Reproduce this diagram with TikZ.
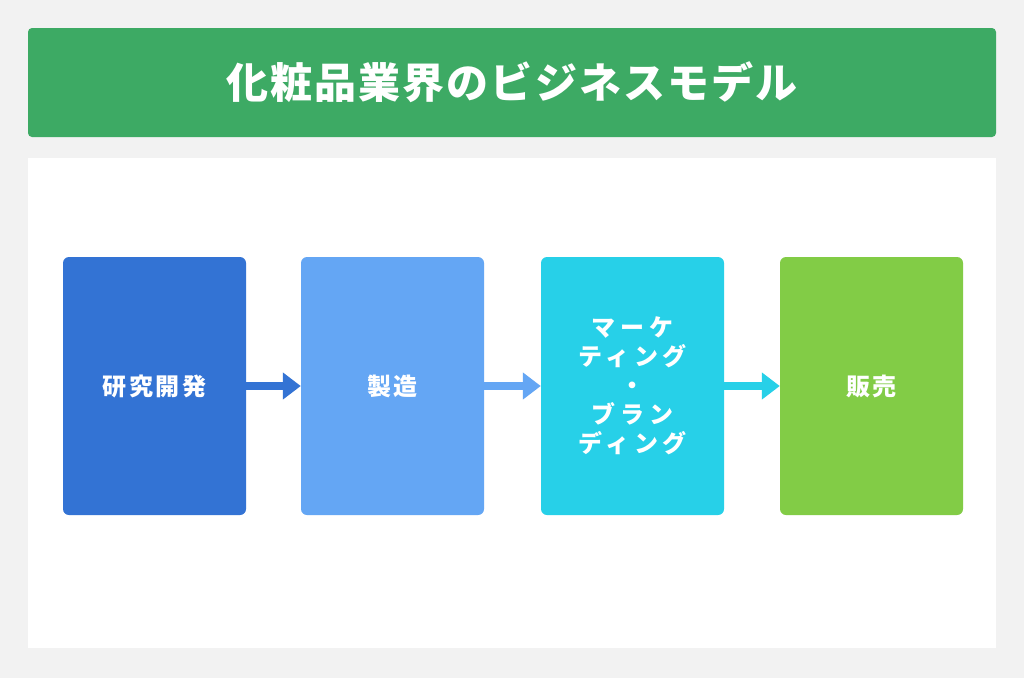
\documentclass[tikz,border=0pt]{standalone}
\usepackage{fontspec}
\usetikzlibrary{arrows.meta}
\newfontfamily\cjk{Noto Sans CJK JP}
\definecolor{bgc}{HTML}{F2F2F2}
\definecolor{titleg}{HTML}{3DAA64}
\definecolor{ca}{HTML}{3373D4}
\definecolor{cb}{HTML}{64A6F4}
\definecolor{cc}{HTML}{27D0E8}
\definecolor{cd}{HTML}{82CC46}
\tikzset{
  stepbox/.style={rounded corners=6pt, minimum width=183pt, minimum height=258pt, inner sep=0pt, text=white, align=center,
    font={\cjk\bfseries\addfontfeature{LetterSpace=11}\fontsize{24}{29}\selectfont}},
  widebox/.style={stepbox, font={\cjk\bfseries\addfontfeature{LetterSpace=20}\fontsize{24}{29}\selectfont}},
  flow/.style={line width=8pt, -{Triangle[length=18pt,width=26pt]}}
}
\begin{document}
\begin{tikzpicture}[x=1pt,y=-1pt]
\useasboundingbox (0,0) rectangle (1024,678);
\fill[bgc] (0,0) rectangle (1024,678);
\fill[titleg, rounded corners=4pt] (28,28) rectangle (996,137);
\node[text=white, font={\cjk\bfseries\addfontfeature{LetterSpace=5}\fontsize{42}{50}\selectfont}] (title) at (512,82) {化粧品業界のビジネスモデル};
\fill[white] (28,158) rectangle (996,648);
\node[stepbox, fill=ca] (b1) at (154.5,386) {研究開発};
\node[stepbox, fill=cb] (b2) at (392.5,386) {製造};
\node[widebox, fill=cc] (b3) at (632.5,386) {マーケ\\ティング\\・\\ブラン\\ディング};
\node[stepbox, fill=cd] (b4) at (871.5,386) {販売};
\draw[flow, ca] (b1.east) -- (b2.west);
\draw[flow, cb] (b2.east) -- (b3.west);
\draw[flow, cc] (b3.east) -- (b4.west);
\end{tikzpicture}
\end{document}
